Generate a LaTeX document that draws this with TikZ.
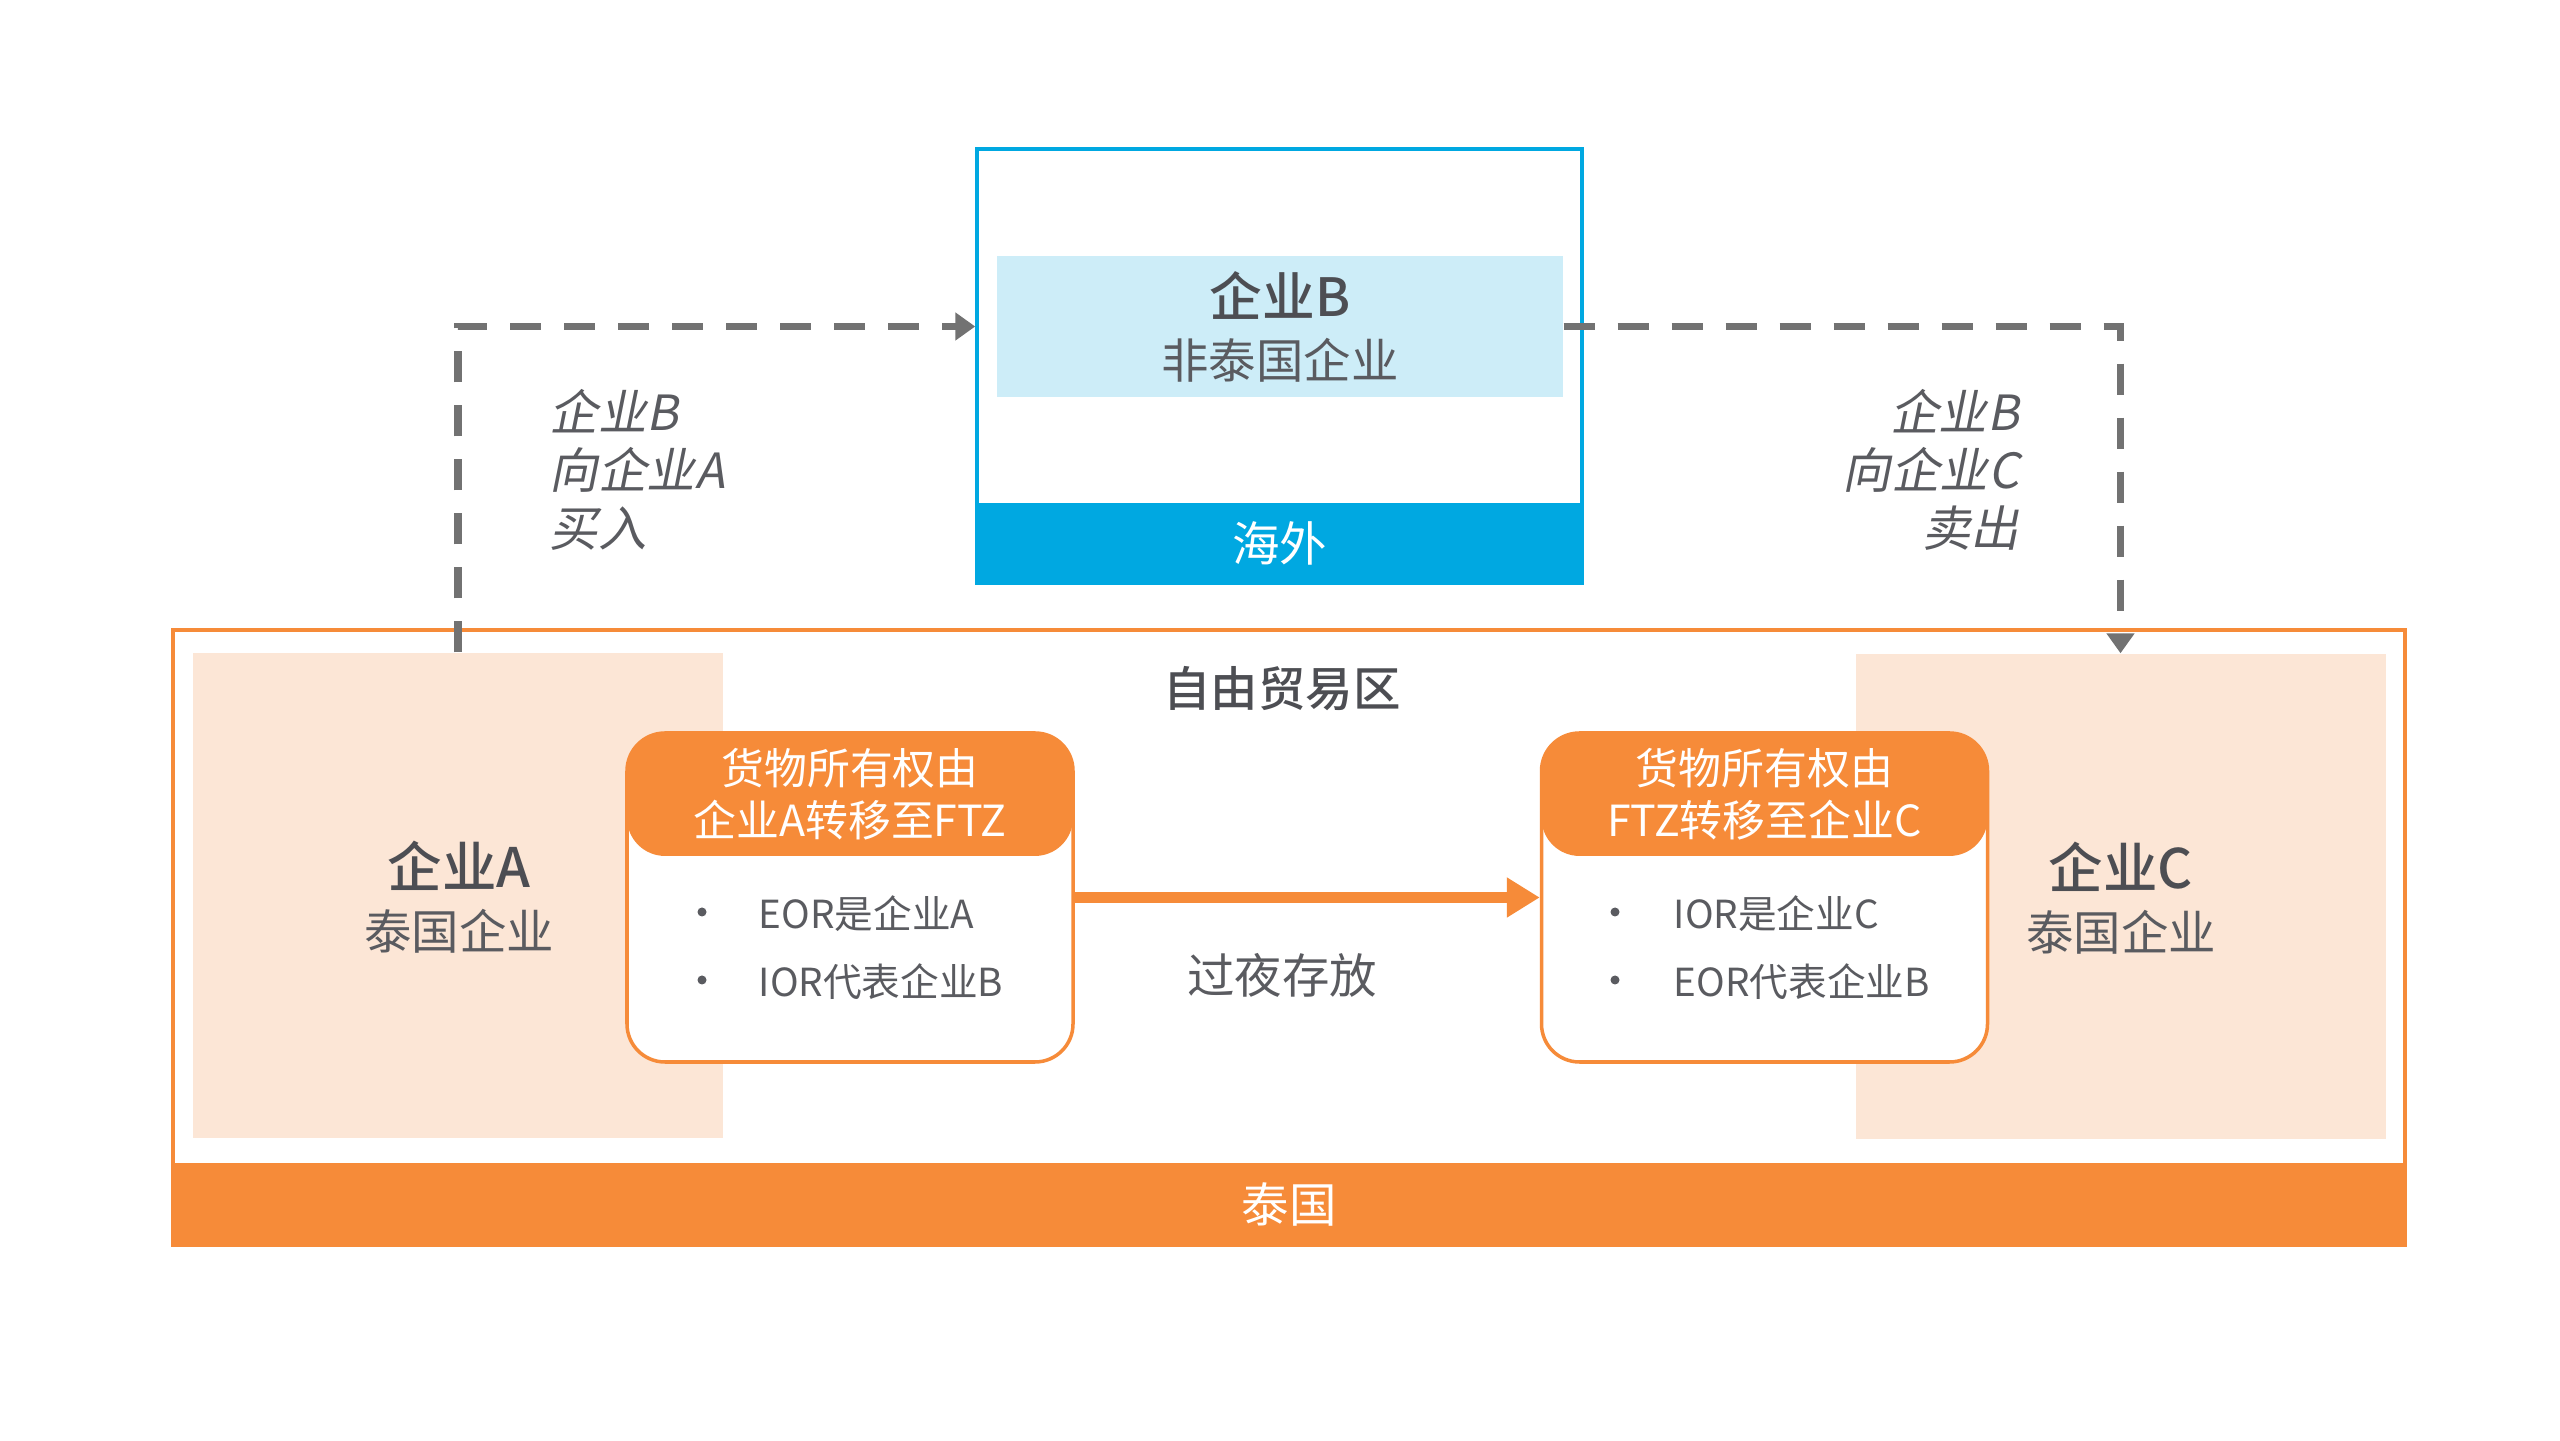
\documentclass[tikz,border=0pt]{standalone}
\usepackage{fontspec}
\setmainfont{Noto Sans CJK SC}
\newfontfamily\slantfont{Noto Sans CJK SC}[FakeSlant=0.2]
\newfontfamily\medfont{Noto Sans CJK SC Medium}
\usetikzlibrary{arrows.meta,positioning}
\definecolor{ftzorange}{HTML}{F68B39}
\definecolor{peach}{HTML}{FCE6D6}
\definecolor{seablue}{HTML}{00A8E1}
\definecolor{paleblue}{HTML}{CDEDF8}
\definecolor{txtgray}{HTML}{5A5B60}
\definecolor{namegray}{HTML}{4D4E53}
\definecolor{linegray}{HTML}{727272}
\tikzset{
	area/.style		= {fill=peach, minimum width=5.3cm, minimum height=4.85cm},
	namelbl/.style	= {text=txtgray, align=center, font=\fontsize{13.5}{17.6}\selectfont},
	ownbox/.style	= {draw=ftzorange, line width=1pt, fill=white, rounded corners=0.38cm,
		minimum width=4.46cm, minimum height=3.29cm},
	ownhead/.style	= {fill=ftzorange, rounded corners=0.38cm, text=white, align=center,
		minimum width=4.46cm, minimum height=1.24cm, font=\fontsize{12.2}{14.8}\selectfont},
	dotlbl/.style	= {circle, fill=txtgray, inner sep=0pt, minimum size=0.09cm},
	itemlbl/.style	= {text=txtgray, anchor=west, inner sep=0pt, font=\fontsize{11}{14}\selectfont},
	deallbl/.style	= {text=txtgray, inner sep=0pt, font=\fontsize{13.8}{16.5}\selectfont\slantfont},
	dealline/.style	= {draw=linegray, line width=2pt, dash pattern=on 0.31cm off 0.23cm,
		-{Triangle[length=0.2cm,width=0.27cm]}},
	flowline/.style	= {draw=ftzorange, line width=3pt, -{Triangle[length=0.33cm,width=0.38cm]}}
}
\begin{document}
\begin{tikzpicture}
	%\draw[help lines] (0,0) grid (25.6,14.4);
	\useasboundingbox (0,0) rectangle (25.6,14.4);
	
	% overseas
	\node[draw=seablue, line width=1pt, minimum width=6.05cm, minimum height=4.34cm] (boxB) at (12.795,10.74) {};
	\node[fill=seablue, text=white, minimum width=6.05cm, minimum height=0.81cm,
		font=\fontsize{13.5}{16}\selectfont, anchor=south] (overseas) at (boxB.south) {海外};
	\node[fill=paleblue, minimum width=5.66cm, minimum height=1.41cm] (lightB) at (12.80,11.135) {};
	\node[namelbl] (nameB) at (lightB) {{\medfont\color{namegray}\fontsize{15}{17.6}\selectfont 企业B}\\非泰国企业};
	
	% thailand
	\node[draw=ftzorange, line width=1pt, minimum width=22.32cm, minimum height=6.15cm] (ftz) at (12.89,5.025) {};
	\node[fill=ftzorange, text=white, minimum width=22.32cm, minimum height=0.83cm,
		font=\fontsize{13.5}{16}\selectfont, anchor=south] (thai) at (ftz.south) {泰国};
	\node[text=namegray, font=\medfont\fontsize{13.5}{16}\selectfont] (zone) at (12.82,7.51) {自由贸易区};
	\node[area] (areaA) at (4.58,5.445) {};
	\node[area] (areaC) at (21.205,5.435) {};
	\node[namelbl] (nameA) at (4.59,5.43) {{\medfont\color{namegray}\fontsize{15.5}{17.6}\selectfont 企业A}\\泰国企业};
	\node[namelbl] (nameC) at (21.21,5.42) {{\medfont\color{namegray}\fontsize{15.5}{17.6}\selectfont 企业C}\\泰国企业};
	
	% ownership boxes
	\node[ownbox] (boxA) at (8.50,5.425) {};
	\node[ownhead, anchor=north] (headA) at (boxA.north) {货物所有权由\\企业A转移至FTZ};
	\node[ownbox] (boxC) at (17.645,5.425) {};
	\node[ownhead, anchor=north] (headC) at (boxC.north) {货物所有权由\\FTZ转移至企业C};
	\node[dotlbl] (dotA1) at (7.02,5.28) {};
	\node[dotlbl] (dotA2) at (7.02,4.60) {};
	\node[itemlbl] (itemA1) at (7.58,5.26) {EOR是企业A};
	\node[itemlbl] (itemA2) at (7.58,4.58) {IOR代表企业B};
	\node[dotlbl] (dotC1) at (16.15,5.28) {};
	\node[dotlbl] (dotC2) at (16.15,4.60) {};
	\node[itemlbl] (itemC1) at (16.73,5.26) {IOR是企业C};
	\node[itemlbl] (itemC2) at (16.73,4.58) {EOR代表企业B};
	
	\draw[flowline] (boxA.east) -- (boxC.west);
	\node[text=txtgray, font=\fontsize{13.5}{16}\selectfont] (stay) at (12.82,4.65) {过夜存放};
	
	% trade
	\draw[dealline] (areaA.north) |- (boxB.west |- lightB.west);
	\draw[dealline] (lightB.east) -| (areaC.north);
	\node[deallbl, align=left, anchor=west] (buy) at (5.49,9.70) {企业B\\向企业A\\买入};
	\node[deallbl, align=right, anchor=east] (sell) at (20.20,9.70) {企业B\\向企业C\\卖出};
\end{tikzpicture}
\end{document}
